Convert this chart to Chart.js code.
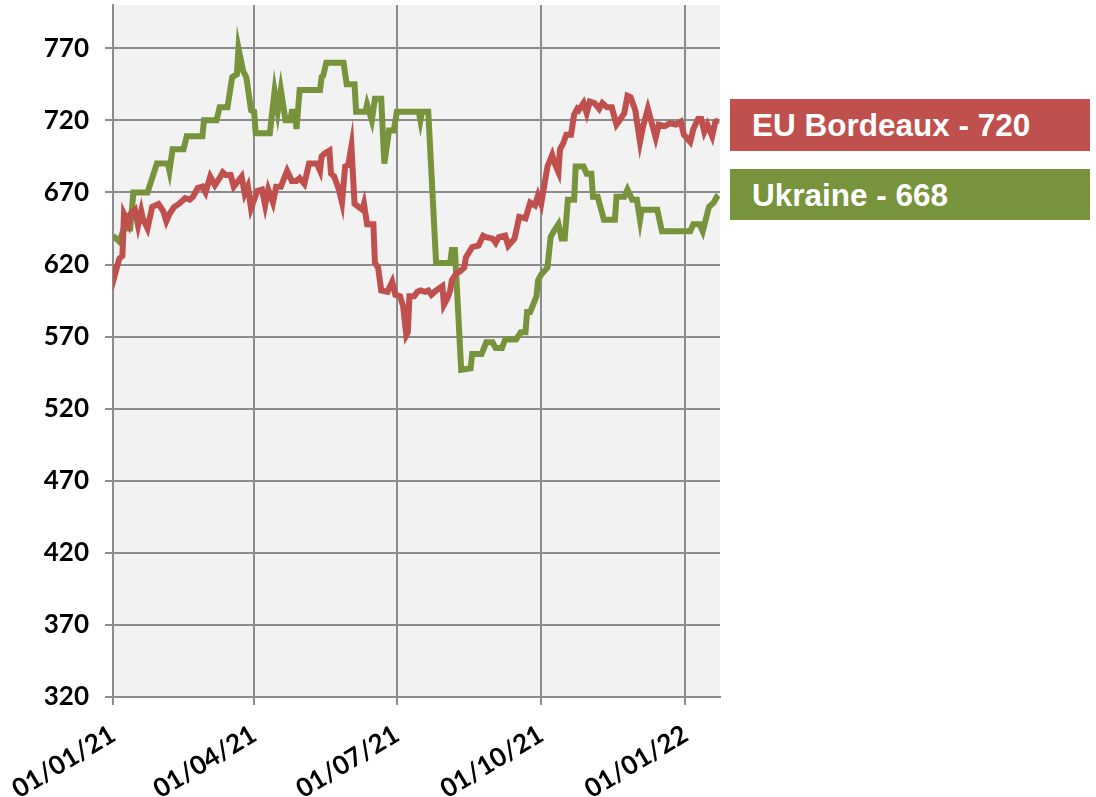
<!DOCTYPE html>
<html>
<head>
<meta charset="utf-8">
<script src="https://cdn.jsdelivr.net/npm/chart.js@4.4.1/dist/chart.umd.min.js"></script>
<style>
  html, body { margin: 0; padding: 0; background: #fff; }
  #wrap { position: relative; width: 1096px; height: 797px; }
  .tag {
    position: absolute; left: 730px; width: 338px; padding-left: 22px;
    color: #fff; font: bold 31.5px "Liberation Sans", Arial, sans-serif;
  }
</style>
</head>
<body>
<div id="wrap">
  <canvas id="chart" width="1096" height="797"></canvas>
  <div class="tag" id="tagEu" style="top:99px;height:52px;line-height:53px;background:#C0504D"></div>
  <div class="tag" id="tagUa" style="top:169px;height:51px;line-height:52px;background:#77933C"></div>
</div>
<script>
// Jours depuis le 01/01/21 et prix (EUR/t)
const euDays = [0, 1, 4, 6, 7, 10, 11, 14, 16, 18, 19, 22, 25, 29, 32, 34, 36, 39, 42, 46, 49, 51, 54, 57, 59, 62, 65, 68, 70, 72, 75, 77, 82, 84, 86, 88, 92, 95, 97, 99, 102, 104, 107, 111, 114, 117, 119, 122, 125, 130, 132, 133, 135, 138, 139, 141, 144, 146, 148, 150, 152, 154, 159, 160, 161, 162, 166, 167, 169, 171, 175, 178, 180, 183, 185, 187, 188, 189, 192, 194, 196, 199, 201, 203, 206, 210, 211, 213, 215, 216, 219, 221, 224, 225, 229, 233, 236, 238, 242, 244, 246, 250, 252, 256, 259, 263, 266, 269, 271, 273, 277, 280, 282, 284, 285, 287, 289, 292, 294, 296, 297, 300, 302, 304, 307, 310, 312, 315, 318, 321, 323, 326, 328, 330, 333, 336, 338, 341, 343, 346, 348, 352, 355, 359, 362, 364, 368, 370, 373, 375, 377, 379, 382, 384, 386];
const euValues = [620, 612, 624, 626, 655, 648, 655, 658, 647, 657, 652, 645, 660, 662, 657, 650, 655, 660, 662, 666, 665, 667, 673, 674, 670, 681, 675, 680, 684, 682, 682, 674, 681, 669, 674, 659, 671, 672, 661, 672, 663, 674, 674, 685, 678, 678, 680, 676, 690, 690, 685, 695, 697, 699, 683, 681, 672, 663, 688, 689, 702, 662, 658, 662, 655, 648, 648, 621, 618, 602, 601, 608, 599, 598, 591, 571, 573, 598, 598, 601, 602, 601, 602, 599, 602, 605, 592, 596, 602, 609, 614, 615, 618, 625, 632, 633, 640, 639, 638, 635, 639, 640, 633, 638, 653, 652, 663, 661, 668, 662, 688, 696, 689, 684, 700, 704, 710, 710, 724, 728, 727, 732, 725, 733, 732, 728, 732, 729, 729, 717, 720, 725, 737, 736, 727, 705, 716, 728, 720, 708, 717, 716, 718, 717, 719, 710, 705, 714, 721, 721, 712, 717, 709, 719, 720];

const uaDays = [0, 4, 7, 11, 13, 22, 28, 35, 36, 38, 45, 47, 57, 58, 66, 68, 73, 76, 79, 80, 83, 85, 88, 90, 91, 100, 103, 105, 107, 110, 113, 114, 116, 117, 119, 132, 133, 134, 136, 147, 149, 154, 155, 161, 162, 165, 167, 171, 173, 176, 179, 181, 195, 196, 197, 201, 206, 215, 216, 218, 222, 228, 229, 235, 238, 242, 244, 248, 250, 257, 260, 263, 264, 266, 270, 271, 273, 277, 279, 281, 284, 286, 288, 290, 294, 295, 300, 302, 305, 306, 309, 313, 320, 321, 326, 328, 331, 334, 336, 337, 347, 350, 368, 370, 374, 376, 380, 383, 385, 386];
const uaValues = [640, 636, 645, 645, 670, 670, 690, 690, 685, 700, 700, 709, 709, 720, 720, 729, 729, 750, 752, 770, 754, 750, 727, 726, 711, 711, 740, 726, 741, 720, 720, 726, 726, 714, 741, 741, 750, 751, 760, 760, 745, 745, 726, 726, 731, 720, 735, 735, 690, 713, 713, 726, 726, 720, 726, 726, 621, 621, 630, 630, 547, 548, 558, 558, 566, 566, 562, 562, 568, 568, 573, 573, 587, 587, 598, 609, 613, 618, 639, 643, 648, 638, 638, 665, 665, 688, 688, 683, 683, 667, 667, 651, 651, 667, 667, 672, 665, 665, 651, 658, 658, 643, 643, 648, 648, 643, 660, 663, 667, 668];

const seriesNames = ['EU Bordeaux', 'Ukraine'];
const seriesColors = ['#C0504D', '#77933C'];
const lastValues = [720, 668];

const yTicks = [320, 370, 420, 470, 520, 570, 620, 670, 720, 770];
const xTickDays = [0, 90, 181, 273, 365];
const xTickLabels = ['01/01/21', '01/04/21', '01/07/21', '01/10/21', '01/01/22'];

// Étiquettes à droite du graphique
document.getElementById('tagEu').textContent = seriesNames[0] + ' - ' + lastValues[0];
document.getElementById('tagUa').textContent = seriesNames[1] + ' - ' + lastValues[1];

function toPoints(days, values) {
  return days.map((d, i) => ({ x: d, y: values[i] }));
}

// Fond gris de la zone de tracé
const plotBg = {
  id: 'plotBg',
  beforeDraw(chart) {
    const a = chart.chartArea;
    const ctx = chart.ctx;
    ctx.save();
    ctx.fillStyle = '#F2F2F2';
    ctx.fillRect(a.left, a.top, a.right - a.left, a.bottom - a.top);
    ctx.restore();
  }
};

const tickFont = { family: 'Lato, "Liberation Sans", sans-serif', size: 26, weight: 'bold' };
const gridStyle = { color: '#8C8C8C', lineWidth: 2, tickLength: 8, tickColor: '#8C8C8C' };

// pas de marge automatique autour des axes
function noPad(s) {
  s.paddingTop = 0;
  s.paddingBottom = 0;
  s.paddingLeft = 0;
  s.paddingRight = 0;
}

new Chart(document.getElementById('chart'), {
  type: 'line',
  data: {
    datasets: [
      {
        label: seriesNames[0],
        data: toPoints(euDays, euValues),
        borderColor: seriesColors[0],
        borderWidth: 6,
        pointRadius: 0,
        tension: 0
      },
      {
        label: seriesNames[1],
        data: toPoints(uaDays, uaValues),
        borderColor: seriesColors[1],
        borderWidth: 6,
        pointRadius: 0,
        tension: 0
      }
    ]
  },
  options: {
    responsive: false,
    animation: false,
    layout: { padding: { top: 5, right: 376, left: 0, bottom: 0 } },
    plugins: { legend: { display: false }, tooltip: { enabled: false } },
    scales: {
      x: {
        type: 'linear',
        min: 0,
        max: 387,
        afterBuildTicks: s => { s.ticks = xTickDays.map(v => ({ value: v })); },
        afterFit: s => { s.height = 100; noPad(s); },
        grid: gridStyle,
        border: { color: '#8C8C8C', width: 2 },
        ticks: {
          color: '#000',
          font: tickFont,
          minRotation: 31,
          maxRotation: 31,
          padding: 14,
          callback: v => xTickLabels[xTickDays.indexOf(v)]
        }
      },
      y: {
        min: 320,
        max: 800,
        afterBuildTicks: s => { s.ticks = yTicks.map(v => ({ value: v })); },
        afterFit: s => { s.width = 113; noPad(s); },
        grid: gridStyle,
        border: { color: '#8C8C8C', width: 2 },
        ticks: { color: '#000', font: tickFont, padding: 16 }
      }
    }
  },
  plugins: [plotBg]
});
</script>
</body>
</html>
